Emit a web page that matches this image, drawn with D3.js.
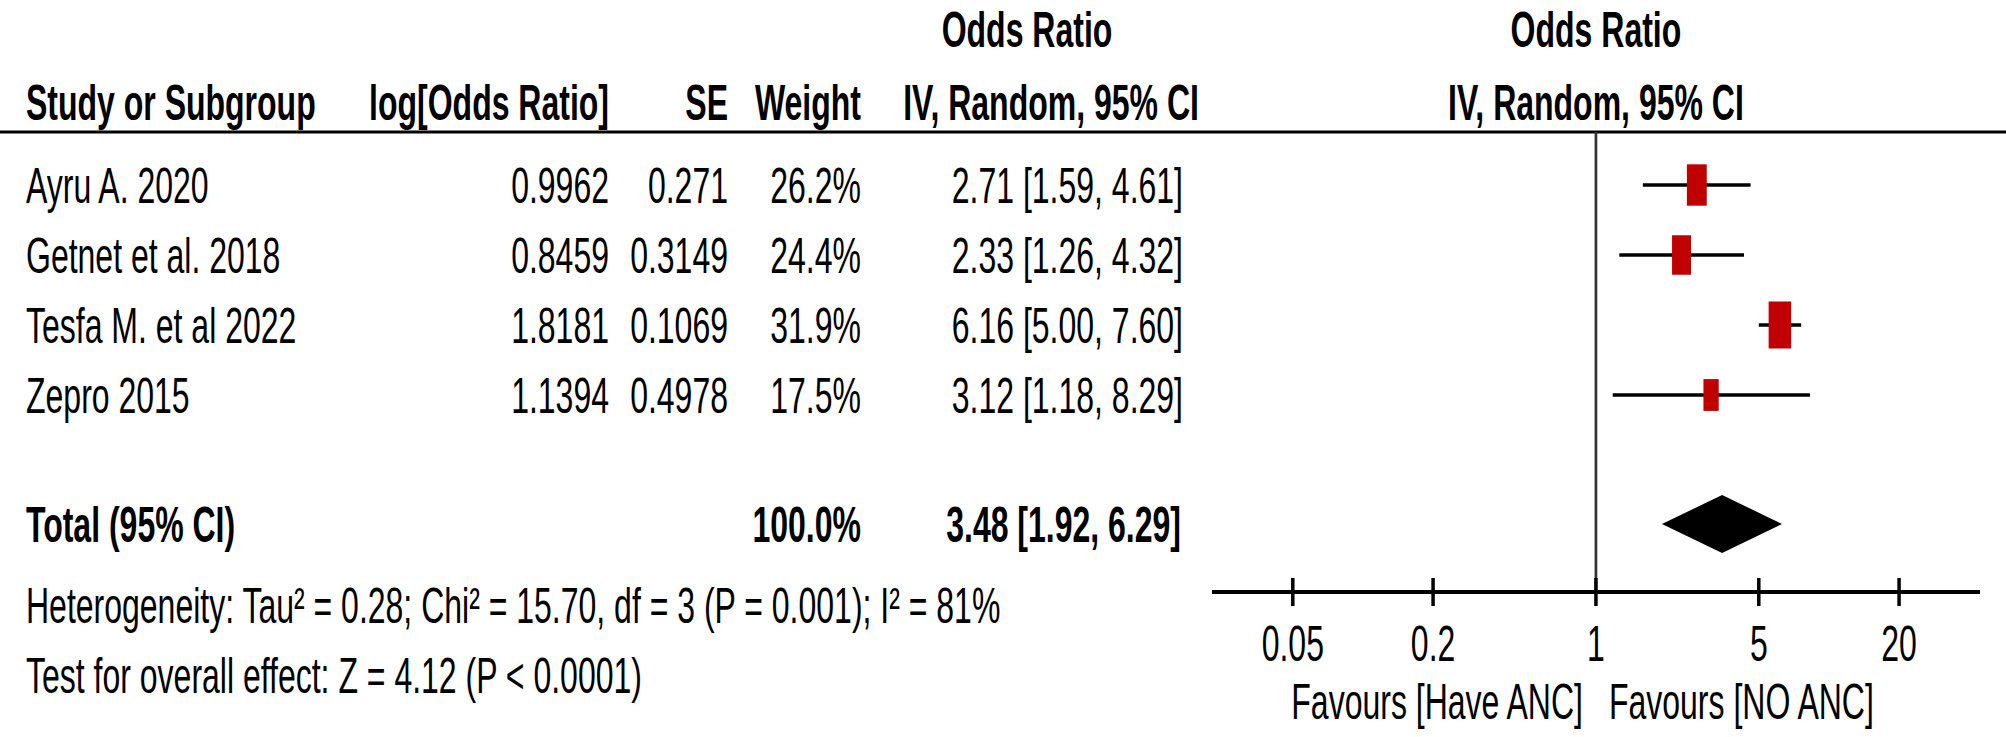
<!DOCTYPE html>
<html>
<head>
<meta charset="UTF-8">
<title>Forest plot - Odds Ratio</title>
<style>
body { margin: 0; background: #fff; }
svg { display: block; font-family: "Liberation Sans", Arial, sans-serif; }
</style>
</head>
<body>
<svg id="chart" width="2006" height="737"></svg>

<script src="https://d3js.org/d3.v7.min.js"></script>
<script>
// data
const studies  = ["Ayru A. 2020", "Getnet et al. 2018", "Tesfa M. et al 2022", "Zepro 2015"];
const logOR    = ["0.9962", "0.8459", "1.8181", "1.1394"];
const seVals   = ["0.271", "0.3149", "0.1069", "0.4978"];
const weights  = [26.2, 24.4, 31.9, 17.5];
const oddsR    = [2.71, 2.33, 6.16, 3.12];
const ciLow    = [1.59, 1.26, 5.00, 1.18];
const ciHigh   = [4.61, 4.32, 7.60, 8.29];
const totalCI  = [1.92, 3.48, 6.29];   // low, estimate, high
const totalWeight = "100.0%";
const tickVals = [0.05, 0.2, 1, 5, 20];
const favours  = ["Favours [Have ANC]", "Favours [NO ANC]"];
const hetText  = "Heterogeneity: Tau² = 0.28; Chi² = 15.70, df = 3 (P = 0.001); I² = 81%";
const testText = "Test for overall effect: Z = 4.12 (P < 0.0001)";

const width = 2006, height = 737;
const fs = 50, sx = 0.64;   // picture text is squeezed horizontally

let svg = d3.select("#chart");

function label(x, y, str, anchor, bold) {
  svg.append("text")
    .attr("transform", "translate(" + x + "," + y + ") scale(" + sx + ",1)")
    .attr("text-anchor", anchor)
    .attr("dy", "0.36em")
    .attr("font-size", fs)
    .attr("font-weight", bold ? "bold" : "normal")
    .attr("fill", "#000")
    .text(str);
}

const fmt = d3.format(".2f");
const ciStr = (o, l, h) => fmt(o) + " [" + fmt(l) + ", " + fmt(h) + "]";

// scales
let x = d3.scaleLog().domain([0.0225, 44.5]).range([1212, 1980]);
let y = d3.scalePoint().domain(studies).range([185, 395]);
let boxH = d3.scalePow().exponent(0.65).domain([0, d3.max(weights)]).range([0, 47]);

const col = { study: 26, logor: 609, se: 728, weight: 861, ci: 1183 };
const yTop = 29, yHead = 102, yLine = 132, yTotal = 524, yAxis = 592;

// headers
label(1027, yTop, "Odds Ratio", "middle", true);
label(x(1), yTop, "Odds Ratio", "middle", true);
label(col.study, yHead, "Study or Subgroup", "start", true);
label(col.logor, yHead, "log[Odds Ratio]", "end", true);
label(col.se, yHead, "SE", "end", true);
label(col.weight, yHead, "Weight", "end", true);
label(1051, yHead, "IV, Random, 95% CI", "middle", true);
label(x(1), yHead, "IV, Random, 95% CI", "middle", true);

svg.append("line")
  .attr("x1", 0).attr("x2", width)
  .attr("y1", yLine).attr("y2", yLine)
  .attr("stroke", "#000").attr("stroke-width", 3);

// study rows
studies.forEach((s, i) => {
  label(col.study, y(s), s, "start", false);
  label(col.logor, y(s), logOR[i], "end", false);
  label(col.se, y(s), seVals[i], "end", false);
  label(col.weight, y(s), weights[i].toFixed(1) + "%", "end", false);
  label(col.ci, y(s), ciStr(oddsR[i], ciLow[i], ciHigh[i]), "end", false);
});

// total row + footnotes
label(col.study, yTotal, "Total (95% CI)", "start", true);
label(col.weight, yTotal, totalWeight, "end", true);
label(col.ci - 2, yTotal, ciStr(totalCI[1], totalCI[0], totalCI[2]), "end", true);
label(col.study, 605, hetText, "start", false);
label(col.study, 675, testText, "start", false);

// null line
svg.append("line")
  .attr("x1", x(1)).attr("x2", x(1))
  .attr("y1", yLine).attr("y2", yAxis)
  .attr("stroke", "#333").attr("stroke-width", 2.7);

// CI lines and boxes
let plot = svg.append("g");
plot.selectAll("line.ci")
  .data(studies)
  .join("line")
  .attr("class", "ci")
  .attr("x1", (d, i) => x(ciLow[i]))
  .attr("x2", (d, i) => x(ciHigh[i]))
  .attr("y1", d => y(d)).attr("y2", d => y(d))
  .attr("stroke", "#000").attr("stroke-width", 3.5);

plot.selectAll("rect.box")
  .data(studies)
  .join("rect")
  .attr("class", "box")
  .attr("x", (d, i) => x(oddsR[i]) - boxH(weights[i]) * 0.48 / 2)
  .attr("y", (d, i) => y(d) - boxH(weights[i]) / 2)
  .attr("width", (d, i) => boxH(weights[i]) * 0.48)
  .attr("height", (d, i) => boxH(weights[i]))
  .attr("fill", "#c00000");

// pooled diamond
plot.append("path")
  .attr("d", "M" + x(totalCI[0]) + "," + yTotal +
             "L" + x(totalCI[1]) + "," + (yTotal - 29) +
             "L" + x(totalCI[2]) + "," + yTotal +
             "L" + x(totalCI[1]) + "," + (yTotal + 29) + "Z")
  .attr("fill", "#000");

// axis
svg.append("line")
  .attr("x1", x.range()[0]).attr("x2", x.range()[1])
  .attr("y1", yAxis).attr("y2", yAxis)
  .attr("stroke", "#000").attr("stroke-width", 4);

svg.selectAll("line.tick")
  .data(tickVals)
  .join("line")
  .attr("class", "tick")
  .attr("x1", d => x(d)).attr("x2", d => x(d))
  .attr("y1", yAxis - 14).attr("y2", yAxis + 14)
  .attr("stroke", "#000").attr("stroke-width", 3.5);

tickVals.forEach(t => label(x(t), 643, String(t), "middle", false));

label(x(1) - 13, 701, favours[0], "end", false);
label(x(1) + 13, 701, favours[1], "start", false);
</script>
</body>
</html>
